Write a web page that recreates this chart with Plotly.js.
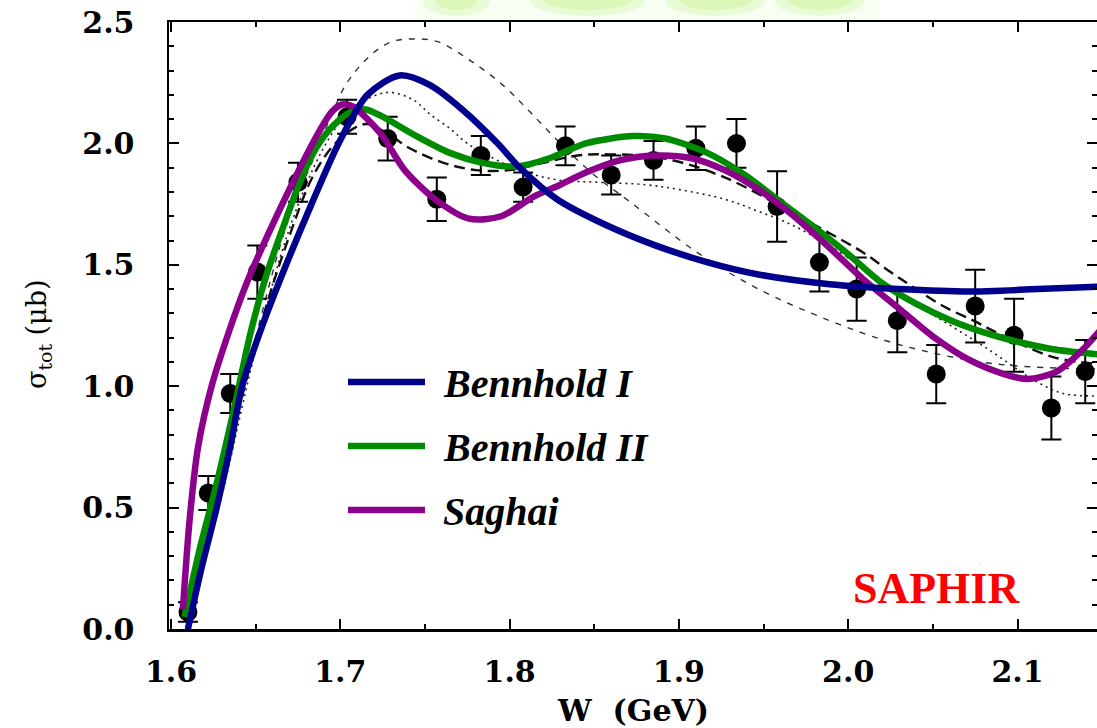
<!DOCTYPE html>
<html>
<head>
<meta charset="utf-8">
<script src="https://cdn.plot.ly/plotly-3.0.1.min.js"></script>
<style>html,body{margin:0;padding:0;background:#fff;}#chart{width:1097px;height:728px;}</style>
</head>
<body>
<div id="chart"></div>
<script>
// SAPHIR data
const dataW = [1.610,1.622,1.635,1.651,1.675,1.704,1.728,1.757,1.783,1.808,1.833,1.860,1.885,1.910,1.934,1.958,1.983,2.005,2.029,2.052,2.075,2.098,2.120,2.140];
const dataSigma = [0.07,0.56,0.97,1.47,1.84,2.11,2.02,1.77,1.95,1.82,1.99,1.87,1.93,1.98,2.00,1.74,1.51,1.40,1.27,1.05,1.33,1.21,0.91,1.06];
const dataErr = [0.04,0.07,0.08,0.11,0.08,0.07,0.09,0.09,0.08,0.06,0.08,0.08,0.08,0.09,0.10,0.145,0.12,0.13,0.13,0.12,0.15,0.15,0.13,0.13];

// Model curves
const b1W = [1.610,1.618,1.627,1.635,1.642,1.654,1.668,1.683,1.699,1.716,1.735,1.753,1.772,1.793,1.806,1.828,1.855,1.886,1.917,1.947,1.989,2.030,2.071,2.112,2.150];
const b1S = [0.00,0.25,0.50,0.75,1.00,1.25,1.50,1.75,2.00,2.20,2.28,2.24,2.14,2.00,1.90,1.77,1.67,1.58,1.51,1.46,1.42,1.40,1.39,1.40,1.41];

const b2W = [1.608,1.617,1.627,1.637,1.647,1.656,1.666,1.675,1.684,1.694,1.706,1.715,1.725,1.745,1.765,1.784,1.804,1.824,1.845,1.873,1.892,1.917,1.939,1.958,1.979,1.999,2.019,2.040,2.061,2.081,2.102,2.123,2.150];
const b2S = [0.05,0.33,0.60,0.90,1.22,1.45,1.65,1.82,1.96,2.06,2.13,2.14,2.11,2.03,1.96,1.92,1.905,1.94,2.00,2.03,2.02,1.96,1.87,1.77,1.66,1.55,1.43,1.34,1.27,1.22,1.18,1.15,1.13];

const sgW = [1.607,1.611,1.616,1.624,1.634,1.645,1.657,1.672,1.686,1.695,1.701,1.708,1.716,1.725,1.738,1.756,1.776,1.795,1.814,1.830,1.845,1.865,1.886,1.907,1.927,1.947,1.968,1.989,2.009,2.030,2.051,2.071,2.092,2.106,2.123,2.137,2.150];
const sgS = [0.08,0.45,0.75,1.00,1.22,1.43,1.62,1.84,2.03,2.13,2.16,2.15,2.10,2.03,1.89,1.77,1.69,1.70,1.78,1.83,1.88,1.93,1.95,1.94,1.89,1.81,1.70,1.57,1.44,1.32,1.20,1.11,1.05,1.03,1.06,1.14,1.24];

// other (black) model curves
const dashW = [1.609,1.625,1.640,1.655,1.670,1.685,1.700,1.715,1.728,1.741,1.761,1.780,1.800,1.820,1.840,1.860,1.890,1.927,1.968,1.989,2.009,2.025,2.038,2.056,2.074,2.088,2.121,2.150];
const dashS = [0.00,0.45,0.90,1.30,1.62,1.88,2.02,2.08,2.04,1.98,1.92,1.89,1.89,1.92,1.95,1.955,1.94,1.86,1.71,1.63,1.55,1.47,1.41,1.33,1.27,1.22,1.12,1.09];

const ldW = [1.609,1.630,1.650,1.670,1.685,1.695,1.704,1.719,1.731,1.742,1.757,1.777,1.796,1.812,1.830,1.850,1.871,1.911,1.947,1.989,2.021,2.048,2.078,2.107,2.150];
const ldS = [0.00,0.60,1.20,1.70,1.95,2.12,2.25,2.37,2.42,2.43,2.42,2.34,2.24,2.13,2.00,1.87,1.76,1.55,1.40,1.27,1.19,1.14,1.10,1.08,1.07];

const dotW = [1.609,1.630,1.650,1.670,1.690,1.705,1.718,1.729,1.743,1.753,1.765,1.775,1.790,1.806,1.828,1.852,1.880,1.900,1.927,1.947,1.968,2.000,2.025,2.051,2.081,2.111,2.127,2.150];
const dotS = [0.00,0.55,1.15,1.65,1.98,2.13,2.19,2.21,2.18,2.12,2.06,2.00,1.94,1.89,1.85,1.84,1.83,1.81,1.77,1.72,1.66,1.53,1.40,1.29,1.16,1.02,0.97,0.96];

const legendNames = ["Bennhold I", "Bennhold II", "Saghai"];
const legendColors = ["rgb(0,0,140)", "rgb(0,140,0)", "rgb(140,0,140)"];

const xTicks = [1.6,1.7,1.8,1.9,2.0,2.1];
const yTicks = [0.0,0.5,1.0,1.5,2.0,2.5];

// pixel geometry helpers (plot area: left 169, top 22, width 928, height 607)
const L=169, T=22, PW=928, PH=607;
const px = v => (v - L)/PW;
const py = v => (T + PH - v)/PH;

const traces = [
  {x: ldW, y: ldS, mode:'lines', line:{color:'#333', width:1.4, dash:'6px,7px', shape:'spline'}, hoverinfo:'skip'},
  {x: dotW, y: dotS, mode:'lines', line:{color:'#222', width:1.6, dash:'2px,4px', shape:'spline'}, hoverinfo:'skip'},
  {x: dashW, y: dashS, mode:'lines', line:{color:'#111', width:2.4, dash:'11px,6px', shape:'spline'}, hoverinfo:'skip'},
  {x: dataW, y: dataSigma, mode:'markers', marker:{color:'#000', size:19, symbol:'circle'},
   error_y:{type:'data', array:dataErr, visible:true, color:'#000', thickness:2, width:10}},
  {x: b2W, y: b2S, mode:'lines', line:{color:legendColors[1], width:6.5, shape:'spline', smoothing:0.8}},
  {x: sgW, y: sgS, mode:'lines', line:{color:legendColors[2], width:6.5, shape:'spline', smoothing:0.8}},
  {x: b1W, y: b1S, mode:'lines', line:{color:legendColors[0], width:6.5, shape:'spline', smoothing:0.8}}
];

const W0 = 1.6 - 2/1693, W1 = W0 + PW/1693;

const shapes = [
  {type:'rect', xref:'paper', yref:'paper', x0:px(415), x1:px(880), y0:py(19), y1:py(0), fillcolor:'rgb(248,254,242)', line:{width:0}, layer:'below'}
];
// soft blurred green blobs at the top (decoration)
const blobs = [[423,490],[530,645],[665,765],[775,865]];
blobs.forEach(b=>{
  shapes.push({type:'circle', xref:'paper', yref:'paper', x0:px(b[0]), x1:px(b[1]), y0:py(16), y1:py(-14), fillcolor:'rgba(215,247,180,0.45)', line:{width:0}, layer:'below'});
  shapes.push({type:'circle', xref:'paper', yref:'paper', x0:px(b[0]+12), x1:px(b[1]-12), y0:py(10), y1:py(-14), fillcolor:'rgba(195,242,140,0.4)', line:{width:0}, layer:'below'});
});
const legendY = [382, 446, 510];
const annotations = [];
legendNames.forEach((n,i)=>{
  shapes.push({type:'line', xref:'paper', yref:'paper', x0:px(348), x1:px(425), y0:py(legendY[i]), y1:py(legendY[i]), line:{color:legendColors[i], width:6.5}});
  annotations.push({xref:'paper', yref:'paper', x:px(441), y:py(legendY[i]+1), xanchor:'left', yanchor:'middle', showarrow:false,
    text:n, font:{family:'Liberation Serif', size:40, color:'#000', weight:'bold', style:'italic'}});
});
annotations.push({xref:'paper', yref:'paper', x:px(936), y:py(588), xanchor:'center', yanchor:'middle', showarrow:false,
  text:'SAPHIR', font:{family:'Liberation Serif', size:44, color:'#ff0000', weight:'bold'}});
annotations.push({xref:'paper', yref:'paper', x:px(633), y:py(710), xanchor:'center', yanchor:'middle', showarrow:false,
  text:'W  (GeV)', font:{family:'DejaVu Serif', size:30, color:'#000', weight:'bold'}});
annotations.push({xref:'paper', yref:'paper', x:px(38), y:py(335), xanchor:'center', yanchor:'middle', showarrow:false, textangle:-90,
  text:'σ<sub>tot</sub> (μb)', font:{family:'DejaVu Serif', size:27, color:'#000'}});

const layout = {
  width:1097, height:728,
  margin:{l:L, r:1097-L-PW, t:T, b:728-T-PH, pad:0},
  paper_bgcolor:'#fff', plot_bgcolor:'#fff',
  showlegend:false,
  xaxis:{range:[W0,W1], showgrid:false, zeroline:false, showline:true, linecolor:'#000', linewidth:2.5, mirror:'ticks',
    ticks:'inside', ticklen:10, tickwidth:2, tickcolor:'#000', tickvals:xTicks, ticktext:xTicks.map(v=>v.toFixed(1)),
    ticklabelstandoff:14,
    minor:{ticks:'inside', ticklen:5, tickwidth:2, tickcolor:'#000', dtick:0.05, tick0:1.6},
    tickfont:{family:'DejaVu Serif', size:30, color:'#000', weight:'bold'}},
  yaxis:{range:[0,2.5], showgrid:false, zeroline:false, showline:true, linecolor:'#000', linewidth:2.5, mirror:'ticks',
    ticks:'inside', ticklen:10, tickwidth:2, tickcolor:'#000', tickvals:yTicks, ticktext:yTicks.map(v=>v.toFixed(1)),
    ticklabelstandoff:26,
    minor:{ticks:'inside', ticklen:5, tickwidth:2, tickcolor:'#000', dtick:0.1, tick0:0},
    tickfont:{family:'DejaVu Serif', size:30, color:'#000', weight:'bold'}},
  shapes:shapes,
  annotations:annotations
};

Plotly.newPlot('chart', traces, layout, {displayModeBar:false, staticPlot:true});
</script>
</body>
</html>
